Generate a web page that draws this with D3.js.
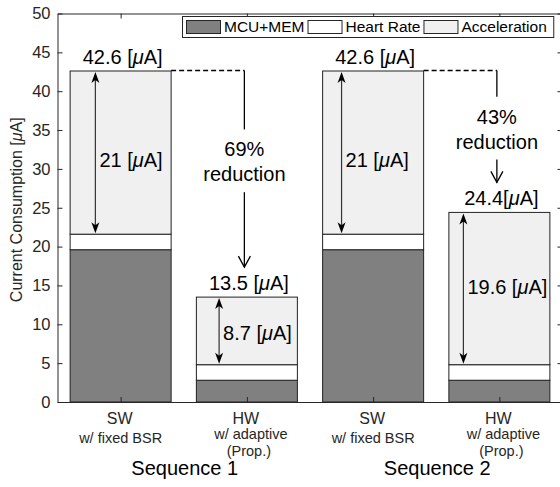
<!DOCTYPE html>
<html>
<head>
<meta charset="utf-8">
<script src="https://cdn.jsdelivr.net/npm/d3@7"></script>
<style>
  body { margin: 0; background: #fff; }
  svg { display: block; font-family: "Liberation Sans", Arial, sans-serif; }
</style>
</head>
<body>
<svg id="chart"></svg>
<script>
// bar data
const barNames = ["SW", "HW", "SW", "HW"];
const barNotes = [["w/ fixed BSR"], ["w/ adaptive", "(Prop.)"], ["w/ fixed BSR"], ["w/ adaptive", "(Prop.)"]];
const sequences = ["Sequence 1", "Sequence 2"];
const mcuMem = [19.6, 2.8, 19.6, 2.8];
const heartRate = [2.0, 2.0, 2.0, 2.0];
const acceleration = [21.0, 8.7, 21.0, 19.6];
const totalLabels = ["42.6 [μA]", "13.5 [μA]", "42.6 [μA]", "24.4[μA]"];
const accLabels = ["21 [μA]", "8.7 [μA]", "21 [μA]", "19.6 [μA]"];
const reductions = ["69%", "43%"];
const seriesNames = ["MCU+MEM", "Heart Rate", "Acceleration"];
const yTicks = [0, 5, 10, 15, 20, 25, 30, 35, 40, 45, 50];

const svgWidth = 560, svgHeight = 487;
const colors = ["#808080", "#ffffff", "#f0f0f0"];
const axisColor = "#262626";

const svg = d3.select("#chart")
    .attr("width", svgWidth)
    .attr("height", svgHeight);

const x = d3.scaleLinear().domain([0.5, 4.5]).range([57.5, 562.5]);
const y = d3.scaleLinear().domain([0, 50]).range([402, 13.5]);
const barW = x(0.8) - x(0);

const rows = barNames.map((n, i) => ({ pos: i + 1, mcu: mcuMem[i], hr: heartRate[i], acc: acceleration[i] }));
const stacked = d3.stack().keys(["mcu", "hr", "acc"])(rows);

// helper: put "[μA]" with an italic mu
const addUA = (sel, str) => {
    const parts = str.split("μ");
    sel.append("tspan").text(parts[0]);
    if (parts.length > 1) {
        sel.append("tspan").attr("font-style", "italic").text("μ");
        sel.append("tspan").text(parts[1]);
    }
};

// stacked bars
svg.append("g")
    .selectAll("g")
    .data(stacked)
    .join("g")
    .attr("fill", (d, i) => colors[i])
    .selectAll("rect")
    .data(d => d)
    .join("rect")
    .attr("x", d => x(d.data.pos) - barW / 2)
    .attr("y", d => y(d[1]))
    .attr("width", barW)
    .attr("height", d => y(d[0]) - y(d[1]))
    .attr("stroke", "#222")
    .attr("stroke-width", 1);

// axes, ticks pointing inward (matlab box)
const styleAxis = g => {
    g.selectAll("path, line").attr("stroke", axisColor);
    g.selectAll("text").attr("fill", axisColor).attr("font-size", 16.5).attr("font-family", null);
};

svg.append("g")
    .attr("transform", "translate(" + x(0.5) + ",0)")
    .call(d3.axisLeft(y).tickValues(yTicks).tickSize(-5).tickSizeOuter(0).tickPadding(7))
    .call(styleAxis);

svg.append("g")
    .attr("transform", "translate(" + x(4.5) + ",0)")
    .call(d3.axisRight(y).tickValues(yTicks).tickSize(-5).tickSizeOuter(0).tickFormat(""))
    .call(styleAxis);

svg.append("g")
    .attr("transform", "translate(0," + y(0) + ")")
    .call(d3.axisBottom(x).tickValues([1, 2, 3, 4]).tickSize(-5).tickSizeOuter(0).tickFormat(""))
    .call(styleAxis);

svg.append("g")
    .attr("transform", "translate(0," + y(50) + ")")
    .call(d3.axisTop(x).tickValues([1, 2, 3, 4]).tickSize(-5).tickSizeOuter(0).tickFormat(""))
    .call(styleAxis);

// y label
const yl = svg.append("text")
    .attr("transform", "translate(22," + (y(25) + 2) + ") rotate(-90)")
    .attr("text-anchor", "middle")
    .attr("font-size", 16)
    .attr("fill", axisColor);
addUA(yl, "Current Consumption [μA]");

// category labels
barNames.forEach((name, i) => {
    const cx = x(i + 1);
    svg.append("text")
        .attr("x", cx - 1).attr("y", 424)
        .attr("text-anchor", "middle")
        .attr("font-size", 16)
        .attr("fill", axisColor)
        .text(name);
    const notes = barNotes[i];
    notes.forEach((t, k) => {
        svg.append("text")
            .attr("x", notes.length > 1 ? cx + (k == 0 ? 4 : 2) : cx)
            .attr("y", notes.length > 1 ? 439 + k * 16.5 : 443)
            .attr("text-anchor", "middle")
            .attr("font-size", 14.5)
            .attr("fill", axisColor)
            .text(t);
    });
});

sequences.forEach((s, j) => {
    svg.append("text")
        .attr("x", (x(2 * j + 1) + x(2 * j + 2)) / 2 + 1)
        .attr("y", 475)
        .attr("text-anchor", "middle")
        .attr("font-size", 20)
        .attr("fill", "#000")
        .text(s);
});

// annotations
const ann = svg.append("g").attr("fill", "#000").attr("font-size", 20);

// totals above bars
rows.forEach((r, i) => {
    const top = r.mcu + r.hr + r.acc;
    const t = ann.append("text")
        .attr("x", x(r.pos) + 2)
        .attr("y", y(top) - 7)
        .attr("text-anchor", "middle");
    addUA(t, totalLabels[i]);
});

// double arrows over the acceleration part
const arrowOffsets = [-0.2, -0.22, -0.25, -0.285];
const labelShift = [7, 2, 7, -2];
const head = (x0, yTip, dir) => {
    // filled head, dir = 1 points down, -1 up
    const p = d3.path();
    p.moveTo(x0, yTip);
    p.lineTo(x0 - 4, yTip - dir * 11);
    p.lineTo(x0, yTip - dir * 8);
    p.lineTo(x0 + 4, yTip - dir * 11);
    p.closePath();
    return p.toString();
};
rows.forEach((r, i) => {
    const ax = x(r.pos + arrowOffsets[i]);
    const y0 = y(r.mcu + r.hr + r.acc), y1 = y(r.mcu + r.hr);
    ann.append("line")
        .attr("x1", ax).attr("x2", ax)
        .attr("y1", y0 + 4).attr("y2", y1 - 4)
        .attr("stroke", "#333").attr("stroke-width", 1.2);
    ann.append("path").attr("d", head(ax, y0 + 1, -1));
    ann.append("path").attr("d", head(ax, y1 - 1, 1));
    const t = ann.append("text")
        .attr("x", ax + 4)
        .attr("y", (y0 + y1) / 2 + labelShift[i])
        .attr("dy", "0.35em");
    addUA(t, accLabels[i]);
});

// reduction arrows between SW and HW bars
const reductionLabelAt = [32.5, 36.7];
reductions.forEach((txt, j) => {
    const sw = rows[2 * j], hw = rows[2 * j + 1];
    const swTop = sw.mcu + sw.hr + sw.acc;
    const hwTop = hw.mcu + hw.hr + hw.acc;
    const rx = x(hw.pos) - 2.5;
    const ty = y(reductionLabelAt[j]);
    const tip = y(hwTop) - 30;
    const dashY = Math.round(y(swTop)) - 0.5;
    ann.append("line")
        .attr("x1", x(sw.pos) + barW / 2).attr("x2", rx)
        .attr("y1", dashY).attr("y2", dashY)
        .attr("stroke", "#000").attr("stroke-width", 1.3)
        .attr("stroke-dasharray", "5,3");
    ann.append("line")
        .attr("x1", rx).attr("x2", rx)
        .attr("y1", dashY).attr("y2", ty - 20)
        .attr("stroke", "#000").attr("stroke-width", 1.3);
    ann.append("line")
        .attr("x1", rx).attr("x2", rx)
        .attr("y1", ty + 42.7).attr("y2", tip)
        .attr("stroke", "#000").attr("stroke-width", 1.3);
    ann.append("path")
        .attr("d", "M" + (rx - 6) + "," + (tip - 11) + "L" + rx + "," + tip + "L" + (rx + 6) + "," + (tip - 11))
        .attr("fill", "none").attr("stroke", "#000").attr("stroke-width", 1.3);
    ann.append("text")
        .attr("x", rx).attr("y", ty).attr("dy", "0.35em")
        .attr("text-anchor", "middle").text(txt);
    ann.append("text")
        .attr("x", rx).attr("y", ty + 25).attr("dy", "0.35em")
        .attr("text-anchor", "middle").text("reduction");
});

// legend
const legend = svg.append("g").attr("font-size", 15.5);
const legBox = legend.append("rect")
    .attr("x", 182.5).attr("y", 16.5).attr("height", 21)
    .attr("fill", "#fff").attr("stroke", axisColor);
let lx = 186;
seriesNames.forEach((name, i) => {
    legend.append("rect")
        .attr("x", lx + 0.5).attr("y", 20.5).attr("width", 34).attr("height", 13)
        .attr("fill", colors[i]).attr("stroke", axisColor);
    const t = legend.append("text")
        .attr("x", lx + 38).attr("y", 27).attr("dy", "0.35em")
        .attr("fill", "#000")
        .text(name);
    lx = lx + 38 + t.node().getComputedTextLength() + 3;
});
legBox.attr("width", lx + 4 - 182.5);
</script>
</body>
</html>
